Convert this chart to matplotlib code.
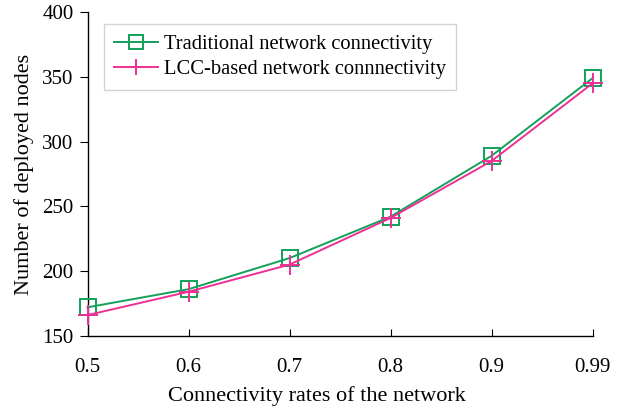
import matplotlib
matplotlib.use("Agg")
import matplotlib.pyplot as plt

categories = ["0.5", "0.6", "0.7", "0.8", "0.9", "0.99"]
traditional = [172, 186, 210, 242, 289, 349]
lcc_based = [166, 184, 205, 241, 285, 345]
y_ticks = [150, 200, 250, 300, 350, 400]

plt.rcParams['font.family'] = ['Liberation Serif', 'DejaVu Serif']

fig = plt.figure(figsize=(6.25, 4.07), dpi=100)
ax = fig.add_axes([0.140, 0.175, 0.808, 0.795])

x = list(range(len(categories)))
ax.plot(x, traditional, color='#13a05a', lw=1.4, marker='s', markersize=12,
        markerfacecolor='none', markeredgecolor='#13a05a', markeredgewidth=1.4,
        label='Traditional network connectivity', clip_on=False, zorder=3)
ax.plot(x, lcc_based, color='#ee2f94', lw=1.4, marker='+', markersize=14,
        markeredgewidth=1.4, label='LCC-based network connnectivity',
        clip_on=False, zorder=3)

ax.set_xlim(0, len(categories) - 1)
ax.set_ylim(150, 400)
ax.set_xticks(x)
ax.set_xticklabels(categories)
ax.set_yticks(y_ticks)
ax.tick_params(axis='x', direction='in', length=5, labelsize=15, pad=16)
ax.tick_params(axis='y', direction='out', length=6, labelsize=15, pad=4)
for s in ['top', 'right']:
    ax.spines[s].set_visible(False)
for s in ['left', 'bottom']:
    ax.spines[s].set_linewidth(1.0)

ax.set_xlabel('Connectivity rates of the network', fontsize=16)
ax.xaxis.set_label_coords(0.455, -0.155)
ax.set_ylabel('Number of deployed nodes', fontsize=16, labelpad=6)

leg = ax.legend(loc='upper left', bbox_to_anchor=(0.033, 0.963), borderaxespad=0,
                fontsize=14.8, frameon=True, fancybox=False, handlelength=2.1,
                borderpad=0.5, labelspacing=0.3, handletextpad=0.3,
                markerscale=0.85)
leg.get_frame().set_edgecolor('#c8c8c8')
leg.get_frame().set_linewidth(1.0)

fig.savefig('out.png', dpi=100)
